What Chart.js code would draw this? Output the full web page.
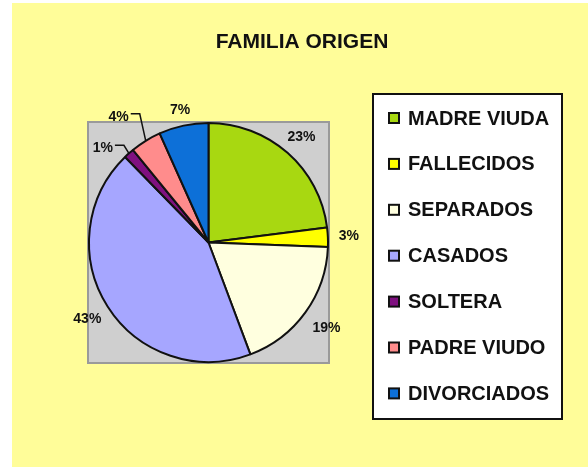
<!DOCTYPE html>
<html>
<head>
<meta charset="utf-8">
<script src="https://cdn.jsdelivr.net/npm/chart.js@4.4.1/dist/chart.umd.min.js"></script>
<style>
  body { margin: 0; background: #fff; }
  #wrap { position: relative; width: 588px; height: 467px; }
</style>
</head>
<body>
<div id="wrap"><canvas id="familia"></canvas></div>
<script>
var chartTitle = "FAMILIA ORIGEN"
var categories = ["MADRE VIUDA", "FALLECIDOS", "SEPARADOS", "CASADOS", "SOLTERA", "PADRE VIUDO", "DIVORCIADOS"]
var values = [23.0, 2.6, 18.7, 43.4, 1.4, 4.2, 6.7]
var sliceColors = ["#A8D811", "#FFFF00", "#FFFFDF", "#A6A6FF", "#7F1080", "#FF8C8C", "#0D70D8"]

// labels that excel moved away from the slice, drawn with a leader line
var leaderIdx = { 4: { ex: -5, ey: -8 }, 5: { ex: -6, ey: -27 } }
// extra distance of the plain labels from the pie edge
var labelGap = { 2: 26, 3: 24, 6: 16 }

const fontFam = "'Liberation Sans', Arial, sans-serif"

// yellow chart area + grey plot area behind the pie
const backdrop = {
    id: "backdrop",
    beforeDraw(chart) {
        const ctx = chart.ctx, a = chart.chartArea
        ctx.save()
        ctx.fillStyle = "#fff"
        ctx.fillRect(0, 0, chart.width, chart.height)
        ctx.fillStyle = "#FFFD99"
        ctx.fillRect(12, 3, chart.width - 12, chart.height - 3)
        ctx.fillStyle = "#CFCFCF"
        ctx.fillRect(a.left, a.top, a.right - a.left, a.bottom - a.top)
        ctx.strokeStyle = "#9A9A9A"
        ctx.lineWidth = 2
        ctx.strokeRect(a.left, a.top, a.right - a.left, a.bottom - a.top)
        // title
        ctx.fillStyle = "#111"
        ctx.font = "bold 21px " + fontFam
        ctx.textAlign = "center"
        ctx.textBaseline = "middle"
        ctx.fillText(chartTitle, 302, 42)
        ctx.restore()
    }
}

// percentage labels outside the slices
const pctLabels = {
    id: "pctLabels",
    afterDatasetsDraw(chart) {
        const ctx = chart.ctx
        const meta = chart.getDatasetMeta(0)
        const total = values.reduce((s, v) => s + v, 0)
        ctx.save()
        ctx.font = "bold 14px " + fontFam
        ctx.fillStyle = "#111"
        ctx.strokeStyle = "#111"
        ctx.lineWidth = 1.5
        meta.data.forEach((arc, i) => {
            const p = arc.getProps(["x", "y", "startAngle", "endAngle", "outerRadius"], true)
            const mid = (p.startAngle + p.endAngle) / 2
            const txt = Math.round(values[i] / total * 100) + "%"
            const lead = leaderIdx[i]
            if (lead) {
                const ex = p.x + Math.cos(mid) * p.outerRadius
                const ey = p.y + Math.sin(mid) * p.outerRadius
                const bx = ex + lead.ex, by = ey + lead.ey
                ctx.beginPath()
                ctx.moveTo(ex, ey)
                ctx.lineTo(bx, by)
                ctx.lineTo(bx - 9, by)
                ctx.stroke()
                ctx.textAlign = "right"
                ctx.textBaseline = "middle"
                ctx.fillText(txt, bx - 11, by + 3)
            } else {
                const r = p.outerRadius + (labelGap[i] || 21)
                ctx.textAlign = "center"
                ctx.textBaseline = "middle"
                ctx.fillText(txt, p.x + Math.cos(mid) * r, p.y + Math.sin(mid) * r)
            }
        })
        ctx.restore()
    }
}

// boxed legend on the right
const boxLegend = {
    id: "boxLegend",
    afterDraw(chart) {
        const ctx = chart.ctx
        ctx.save()
        ctx.fillStyle = "#fff"
        ctx.fillRect(373, 94, 189, 325)
        ctx.strokeStyle = "#111"
        ctx.lineWidth = 2
        ctx.strokeRect(373, 94, 189, 325)
        ctx.font = "bold 20px " + fontFam
        ctx.textAlign = "left"
        ctx.textBaseline = "middle"
        chart.data.labels.forEach((lbl, i) => {
            const y = 118 + i * 45.9
            ctx.fillStyle = sliceColors[i]
            ctx.fillRect(389, y - 5, 10, 10)
            ctx.strokeStyle = "#111"
            ctx.lineWidth = 2
            ctx.strokeRect(389, y - 5, 10, 10)
            ctx.fillStyle = "#111"
            ctx.fillText(lbl, 408, y + 1)
        })
        ctx.restore()
    }
}

new Chart(document.getElementById("familia").getContext("2d"), {
    type: "pie",
    data: {
        labels: categories,
        datasets: [{
            data: values,
            backgroundColor: sliceColors,
            borderColor: "#111",
            borderWidth: 2
        }]
    },
    options: {
        responsive: true,
        maintainAspectRatio: false,
        animation: false,
        layout: { padding: { left: 88, top: 122, right: 259, bottom: 104 } },
        plugins: {
            legend: { display: false },
            tooltip: { enabled: false }
        }
    },
    plugins: [backdrop, pctLabels, boxLegend]
})
</script>
</body>
</html>
